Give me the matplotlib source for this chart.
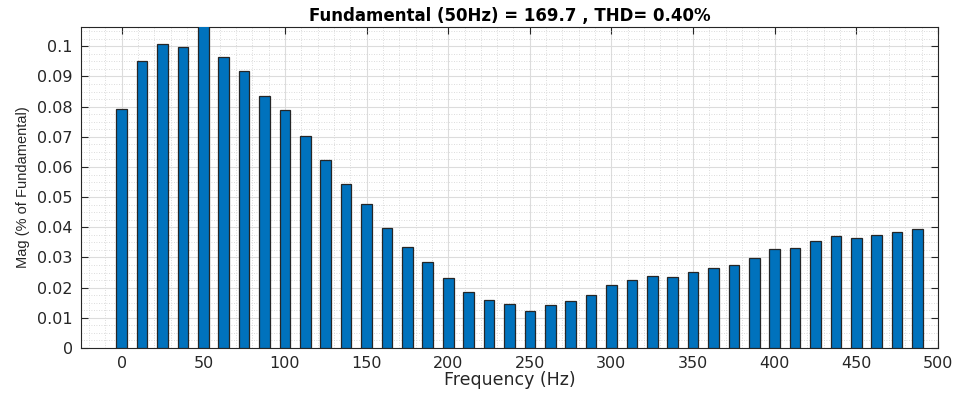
import numpy as np
import matplotlib
matplotlib.use("Agg")
import matplotlib.pyplot as plt
from matplotlib.ticker import MultipleLocator

plt.rcParams['font.family'] = ['DejaVu Sans']

# Harmonic spectrum, 12.5 Hz resolution
freq_step = 12.5
magnitudes = [
    0.0792, 0.0951, 0.1006, 0.0999, 0.1080, 0.0966, 0.0919, 0.0835, 0.0788, 0.0704,
    0.0623, 0.0544, 0.0476, 0.0397, 0.0335, 0.0284, 0.0232, 0.0187, 0.0160, 0.0145,
    0.0124, 0.0141, 0.0156, 0.0175, 0.0210, 0.0224, 0.0240, 0.0234, 0.0252, 0.0266,
    0.0274, 0.0298, 0.0328, 0.0333, 0.0356, 0.0370, 0.0366, 0.0376, 0.0383, 0.0396,
]
frequencies = [i * freq_step for i in range(len(magnitudes))]
x_ticks = [0, 50, 100, 150, 200, 250, 300, 350, 400, 450, 500]
y_ticks = [0, 0.01, 0.02, 0.03, 0.04, 0.05, 0.06, 0.07, 0.08, 0.09, 0.1]
y_tick_labels = ["0", "0.01", "0.02", "0.03", "0.04", "0.05", "0.06", "0.07", "0.08", "0.09", "0.1"]
title_text = "Fundamental (50Hz) = 169.7 , THD= 0.40%"

fig = plt.figure(figsize=(9.57, 3.94), dpi=100)
ax = fig.add_axes([0.0846, 0.1168, 0.8954, 0.8147])

ax.bar(frequencies, magnitudes, width=6.5, color="#0072BD",
       edgecolor="#262626", linewidth=0.9, zorder=3)

ax.set_xlim(-25, 500)
ax.set_ylim(0, 0.1064)
ax.set_xticks(x_ticks)
ax.set_yticks(y_ticks)
ax.set_yticklabels(y_tick_labels)
ax.xaxis.set_minor_locator(MultipleLocator(10))
ax.yaxis.set_minor_locator(MultipleLocator(0.0025))

ax.grid(which="major", color="#dcdcdc", linewidth=0.8, linestyle="-", zorder=0)
ax.grid(which="minor", color="#d0d0d0", linewidth=0.6, linestyle=(0, (1, 2)), zorder=0)
ax.set_axisbelow(True)

ax.tick_params(which="major", direction="in", length=5, width=0.8, color="#262626",
               top=True, right=True, labelsize=11.5, labelcolor="#262626", pad=6)
ax.tick_params(which="minor", length=0, top=True, right=True)
for s in ax.spines.values():
    s.set_color("#262626")
    s.set_linewidth(0.8)

ax.set_xlabel("Frequency (Hz)", fontsize=12.5, color="#262626", labelpad=0)
ax.set_ylabel("Mag (% of Fundamental)", fontsize=10.5, color="#262626", labelpad=5,
              family=["Liberation Sans", "DejaVu Sans"])
ax.set_title(title_text, fontsize=12, fontweight="bold", color="black", pad=4)

fig.savefig("out.png", dpi=100)
